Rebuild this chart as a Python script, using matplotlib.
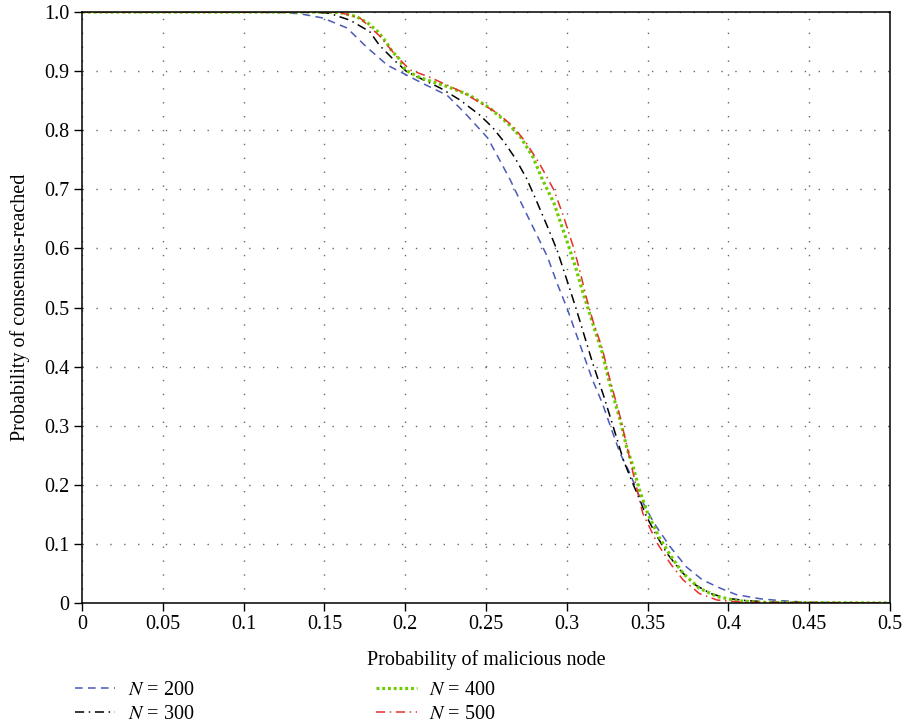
import matplotlib
matplotlib.use('Agg')
import matplotlib.pyplot as plt

# values
x200 = [0, 0.1, 0.125, 0.135, 0.149, 0.164, 0.176, 0.189, 0.199, 0.211, 0.226, 0.238, 0.251,
        0.257, 0.265, 0.273, 0.280, 0.288, 0.294, 0.300, 0.310, 0.316, 0.322, 0.327, 0.333,
        0.339, 0.344, 0.354, 0.364, 0.374, 0.384, 0.395, 0.405, 0.420, 0.432, 0.45, 0.5]
y200 = [1, 1, 0.999, 0.997, 0.99, 0.973, 0.941, 0.910, 0.896, 0.879, 0.859, 0.826, 0.787,
        0.757, 0.716, 0.67, 0.631, 0.586, 0.541, 0.50, 0.423, 0.377, 0.338, 0.299, 0.253,
        0.220, 0.186, 0.135, 0.095, 0.061, 0.039, 0.025, 0.014, 0.007, 0.004, 0.001, 0]

x300 = [0, 0.1, 0.14, 0.153, 0.166, 0.178, 0.184, 0.193, 0.201, 0.222, 0.234, 0.246, 0.254,
        0.261, 0.268, 0.275, 0.281, 0.288, 0.294, 0.300, 0.306, 0.316, 0.323, 0.330, 0.335,
        0.340, 0.346, 0.349, 0.356, 0.362, 0.370, 0.378, 0.389, 0.399, 0.411, 0.43, 0.5]
y300 = [1, 1, 1, 0.998, 0.986, 0.967, 0.944, 0.919, 0.899, 0.871, 0.851, 0.826, 0.805,
        0.781, 0.753, 0.719, 0.682, 0.637, 0.597, 0.547, 0.496, 0.406, 0.349, 0.287, 0.242,
        0.208, 0.169, 0.148, 0.112, 0.084, 0.056, 0.033, 0.016, 0.008, 0.004, 0.001, 0]

x400 = [0, 0.1, 0.15, 0.160, 0.170, 0.177, 0.183, 0.188, 0.192, 0.196, 0.200, 0.209, 0.226,
        0.240, 0.252, 0.263, 0.271, 0.279, 0.285, 0.292, 0.297, 0.302, 0.306, 0.310, 0.314,
        0.317, 0.322, 0.326, 0.330, 0.333, 0.337, 0.341, 0.345, 0.350, 0.357, 0.364, 0.372,
        0.382, 0.393, 0.405, 0.42, 0.5]
y400 = [1, 1, 1, 0.999, 0.992, 0.981, 0.967, 0.95, 0.933, 0.922, 0.902, 0.889, 0.874,
        0.859, 0.838, 0.813, 0.79, 0.755, 0.716, 0.677, 0.637, 0.597, 0.563, 0.525, 0.491,
        0.465, 0.423, 0.377, 0.338, 0.31, 0.264, 0.231, 0.191, 0.152, 0.112, 0.081, 0.050,
        0.025, 0.011, 0.004, 0.001, 0]

x500 = [0, 0.1, 0.15, 0.16, 0.172, 0.184, 0.195, 0.203, 0.215, 0.235, 0.257, 0.267, 0.275,
        0.283, 0.292, 0.298, 0.304, 0.308, 0.312, 0.316, 0.322, 0.326, 0.330, 0.333, 0.337,
        0.341, 0.347, 0.356, 0.364, 0.372, 0.382, 0.393, 0.41, 0.5]
y500 = [1, 1, 1, 0.999, 0.99, 0.96, 0.924, 0.902, 0.89, 0.865, 0.829, 0.806, 0.778,
        0.744, 0.699, 0.654, 0.603, 0.563, 0.518, 0.479, 0.43, 0.385, 0.345, 0.315, 0.268,
        0.22, 0.152, 0.101, 0.067, 0.039, 0.016, 0.005, 0.001, 0]

xticks = [0, 0.05, 0.1, 0.15, 0.2, 0.25, 0.3, 0.35, 0.4, 0.45, 0.5]
xticklabels = ['0', '0.05', '0.1', '0.15', '0.2', '0.25', '0.3', '0.35', '0.4', '0.45', '0.5']
yticks = [0, 0.1, 0.2, 0.3, 0.4, 0.5, 0.6, 0.7, 0.8, 0.9, 1.0]
yticklabels = ['0', '0.1', '0.2', '0.3', '0.4', '0.5', '0.6', '0.7', '0.8', '0.9', '1.0']


def main():
    plt.rcParams['font.family'] = ['Liberation Serif', 'DejaVu Serif']
    plt.rcParams['mathtext.fontset'] = 'stix'

    fig = plt.figure(figsize=(9.04, 7.25), dpi=100)
    ax = fig.add_axes([0.0907, 0.1683, 0.8938, 0.8151])

    l1, = ax.plot(x200, y200, color='#4a5ab8', lw=1.1, dashes=(5, 3.5), label='$N$ = 200')
    l2, = ax.plot(x300, y300, color='black', lw=1.1, dashes=(6, 3, 1, 3), label='$N$ = 300')
    l3, = ax.plot(x400, y400, color='#6ccc00', lw=2.3, dashes=(0.9, 0.9), label='$N$ = 400')
    l4, = ax.plot(x500, y500, color='#e8302a', lw=1.1, dashes=(6, 3, 1, 3), label='$N$ = 500')

    ax.set_xlim(0, 0.5)
    ax.set_ylim(0, 1.0)
    ax.set_xticks(xticks)
    ax.set_xticklabels(xticklabels)
    ax.set_yticks(yticks)
    ax.set_yticklabels(yticklabels)
    ax.tick_params(direction='out', length=6, width=1, labelsize=14.5, pad=3)
    ax.grid(True, color='#666666', lw=1.0, linestyle=(0, (1, 9)))
    for s in ax.spines.values():
        s.set_linewidth(1.1)

    ax.set_xlabel('Probability of malicious node', fontsize=14.5, labelpad=11)
    ax.set_ylabel('Probability of consensus-reached', fontsize=14.5, labelpad=10)

    fig.legend(handles=[l1, l2, l3, l4], loc='upper left', bbox_to_anchor=(0.072, 0.075),
               ncol=2, frameon=False, fontsize=14.5, handlelength=2.0, handletextpad=0.6,
               columnspacing=9.05, labelspacing=0.25, borderpad=0)

    fig.savefig('out.png', dpi=100)
    plt.close(fig)


if __name__ == "__main__":
    main()
